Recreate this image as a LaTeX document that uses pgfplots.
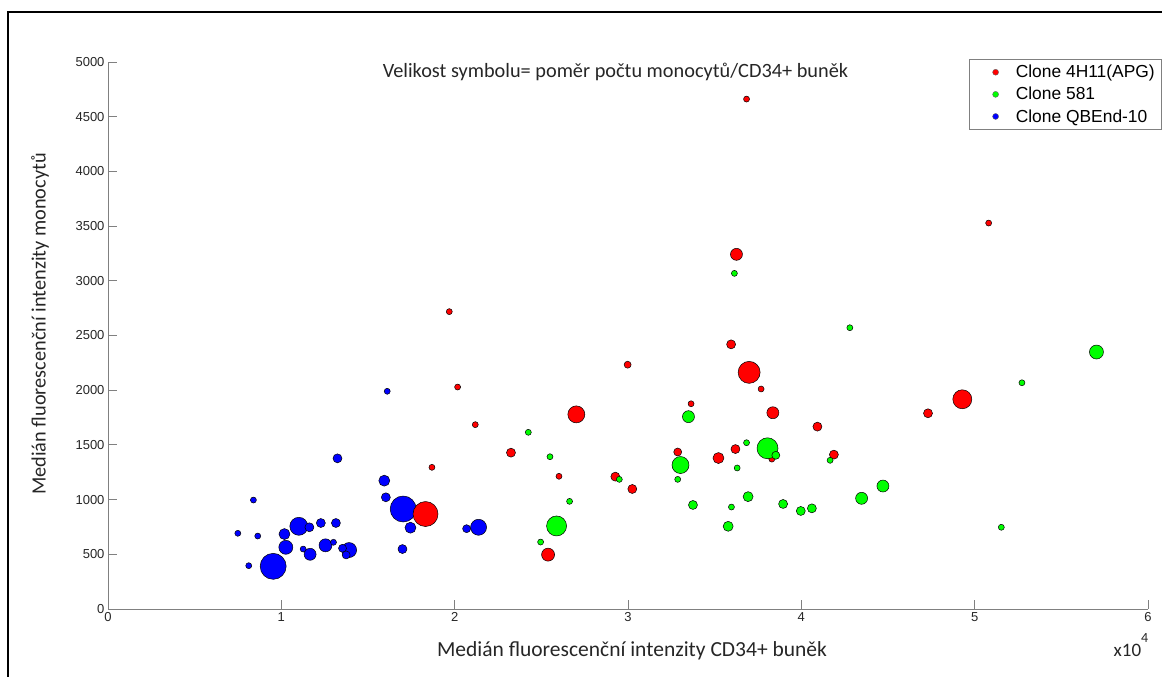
\documentclass[border=0pt]{standalone}
\usepackage{pgfplots}
\pgfplotsset{compat=1.18}
\usepackage{fontspec}
\setmainfont{Liberation Sans}
\newfontfamily\calibri{Carlito}

% marker radius in column r (1 px of the reference = 1 pt here)
\pgfplotsset{
  bubble/.style={
    scatter, only marks, mark=*, forget plot, point meta=y,
    scatter/use mapped color={draw=black, fill=#1},
    visualization depends on={\thisrow{r} \as \rad},
    scatter/@pre marker code/.append style={/tikz/mark size=\rad},
    mark options={line width=0.5pt},
  },
}

\begin{document}
\begin{tikzpicture}[x=1pt,y=1pt]
\path[use as bounding box] (0,0) rectangle (1162,677);
\draw[line width=2pt] (8,-5) -- (8,665) -- (1170,665);

\begin{axis}[
  at={(108pt,68pt)}, anchor=south west,
  scale only axis, width=1040pt, height=547pt,
  xmin=0, xmax=6, ymin=0, ymax=5000,
  axis lines=left, axis line style={-, draw=gray, line width=0.9pt},
  tick align=inside, major tick length=9pt,
  tick style={gray, line width=0.9pt},
  xtick={0,1,...,6}, ytick={0,500,...,5000},
  tick label style={font=\fontsize{13}{13}\selectfont, text=black!85},
  /pgf/number format/assume math mode=true,
  /pgf/number format/1000 sep={},
  clip=false,
  legend style={at={(1.0125,1.0055)}, anchor=north east, draw=gray,
    font=\fontsize{17.4}{19}\selectfont, row sep=4pt, inner sep=4pt},
  legend cell align=left,
  legend image code/.code={\path (0pt,-1pt) (40pt,1pt);
    \draw[#1] plot coordinates {(22pt,0pt)};},
]
\addlegendimage{only marks, mark=*, mark size=3, draw=black!60, fill=red}
\addlegendentry{Clone 4H11(APG)}
\addlegendimage{only marks, mark=*, mark size=3, draw=black!60, fill=green}
\addlegendentry{Clone 581}
\addlegendimage{only marks, mark=*, mark size=3, draw=black!60, fill=blue}
\addlegendentry{Clone QBEnd-10}

% Clone QBEnd-10
\addplot[bubble=blue] table {
x y r
0.749 692 3
0.839 996 3
0.812 396 3
0.953 390 13
0.864 667 3
1.018 685 5.5
1.026 564 7
1.101 756 9
1.162 747 4.5
1.126 548 3
1.166 500 6
1.228 786 4.5
1.255 582 6.5
1.301 610 3
1.315 786 4.5
1.391 539 7.5
1.353 555 4
1.374 494 4
1.324 1377 4.5
1.611 1990 3
1.594 1173 5.5
1.603 1021 4.5
1.703 914 13
1.745 743 5.5
1.699 548 4.5
2.069 734 4
2.138 747 8
};

% Clone 4H11(APG)
\addplot[bubble=red] table {
x y r
1.832 868 12.5
1.869 1295 3
2.017 2029 3
2.119 1685 3
1.969 2718 3
2.325 1429 4.5
2.602 1213 3
2.702 1779 8.5
2.539 497 6.5
2.998 2233 3.5
2.927 1210 4.5
3.025 1097 4.5
3.364 1876 3
3.287 1435 4
3.626 3242 6
3.595 2419 4.5
3.699 2163 11
3.768 2011 3
3.836 1794 6
4.093 1667 4.5
3.522 1380 5.5
3.620 1462 4.5
4.188 1411 4.5
3.830 1370 3
3.684 4661 3
4.731 1789 4.5
4.929 1917 9.5
5.081 3528 3
};

% Clone 581
\addplot[bubble=green] table {
x y r
2.425 1615 3
2.550 1392 3
2.663 984 3
2.588 759 10
2.496 612 3
2.950 1185 3
3.349 1758 6
3.303 1316 8.5
3.287 1185 3
3.375 951 4.5
3.614 3068 3
4.280 2571 3
3.684 1520 3
3.805 1469 10.5
3.853 1405 4
3.630 1289 3
4.166 1359 3
3.597 932 3
3.693 1027 5
3.895 960 4.5
3.997 896 4.5
4.061 920 4.5
3.578 756 5
4.348 1012 6
4.471 1124 6
5.703 2349 7
5.273 2068 3
5.154 747 3
};
\end{axis}

\node[font=\calibri\fontsize{20.3}{20}\selectfont, text=black!85] at (615.5,605)
  {Velikost symbolu= poměr počtu monocytů/CD34+ buněk};
\node[font=\calibri\fontsize{21.5}{21}\selectfont, text=black!85] at (632,26)
  {Medián fluorescenční intenzity CD34+ buněk};
\node[font=\calibri\fontsize{20.3}{20}\selectfont, text=black!85, rotate=90] at (40,353)
  {Medián fluorescenční intenzity monocytů};
\node[font=\calibri\fontsize{19}{19}\selectfont, text=black!85, anchor=base] at (1131,20)
  {x10\raisebox{14pt}{\fontsize{14}{14}\selectfont 4}};
\end{tikzpicture}
\end{document}
